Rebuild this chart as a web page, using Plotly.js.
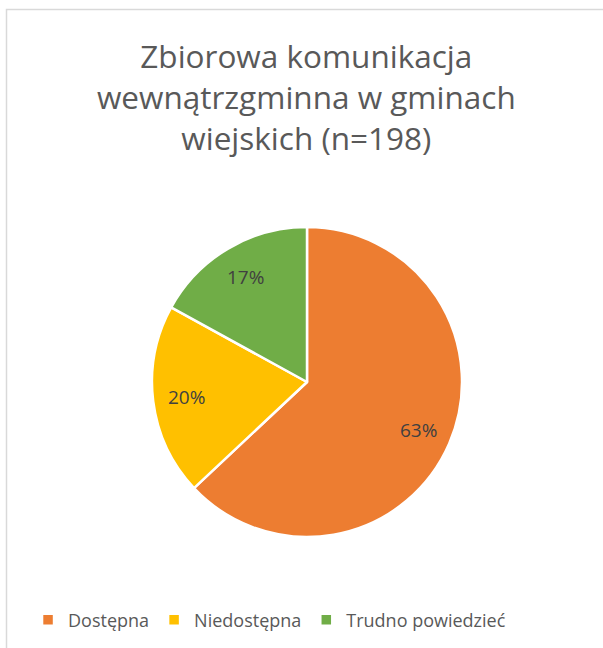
<!DOCTYPE html>
<html>
<head>
<meta charset="utf-8">
<script src="https://cdn.plot.ly/plotly-3.0.1.min.js"></script>
<style>
  html, body { margin: 0; padding: 0; background: #ffffff; }
  #chart { width: 603px; height: 648px; }
</style>
</head>
<body>
<div id="chart"></div>
<script>
const categories = ['Dostępna', 'Niedostępna', 'Trudno powiedzieć'];
const shares = [63, 20, 17];
const colors = ['#ED7D31', '#FFC000', '#70AD47'];
const titleText = 'Zbiorowa komunikacja<br>wewnątrzgminna w gminach<br>wiejskich (n=198)';

const W = 603, H = 648;
const cx = 307, cy = 382, R = 155;
const domX = [(cx - R) / W, (cx + R) / W];
const domY = [(H - cy - R) / H, (H - cy + R) / H];

const total = shares.reduce((a, b) => a + b, 0);
let acc = 0;
const annotations = shares.map((v, i) => {
  const mid = (acc + v / 2) / total * 2 * Math.PI;
  acc += v;
  const r = 0.785 * R;
  const px = cx + r * Math.sin(mid);
  const py = (H - cy) + r * Math.cos(mid);
  return {
    x: px / W, y: py / H, xref: 'paper', yref: 'paper',
    text: Math.round(v / total * 100) + '%', showarrow: false,
    font: { family: 'Open Sans, sans-serif', size: 19, color: '#404040' },
    xanchor: 'center', yanchor: 'middle'
  };
});

const trace = {
  type: 'pie',
  labels: categories,
  values: shares,
  sort: false,
  direction: 'clockwise',
  rotation: 0,
  textinfo: 'none',
  hoverinfo: 'label+percent',
  marker: { colors: colors, line: { color: '#ffffff', width: 2.5 } },
  domain: { x: domX, y: domY }
};

const layout = {
  width: W, height: H,
  margin: { l: 0, r: 0, t: 0, b: 0 },
  paper_bgcolor: '#ffffff',
  title: {
    text: titleText,
    font: { family: 'Open Sans, sans-serif', size: 31.5, color: '#595959' },
    x: 0.508, xanchor: 'center',
    y: 1 - 68 / H, yanchor: 'top', yref: 'paper'
  },
  showlegend: true,
  legend: {
    orientation: 'h',
    x: 0.447, xanchor: 'center',
    y: (H - 620) / H, yanchor: 'middle',
    font: { family: 'Open Sans, sans-serif', size: 18, color: '#595959' },
    itemwidth: 30,
    traceorder: 'normal'
  },
  annotations: annotations,
  shapes: [{
    type: 'rect', xref: 'paper', yref: 'paper',
    x0: 6.5 / W, x1: 1.05, y0: -0.05, y1: 1 - 9.5 / H,
    line: { color: '#D9D9D9', width: 1.5 }, fillcolor: 'rgba(0,0,0,0)',
    layer: 'below'
  }]
};

Plotly.newPlot('chart', [trace], layout, { displayModeBar: false, staticPlot: true });
</script>
</body>
</html>
